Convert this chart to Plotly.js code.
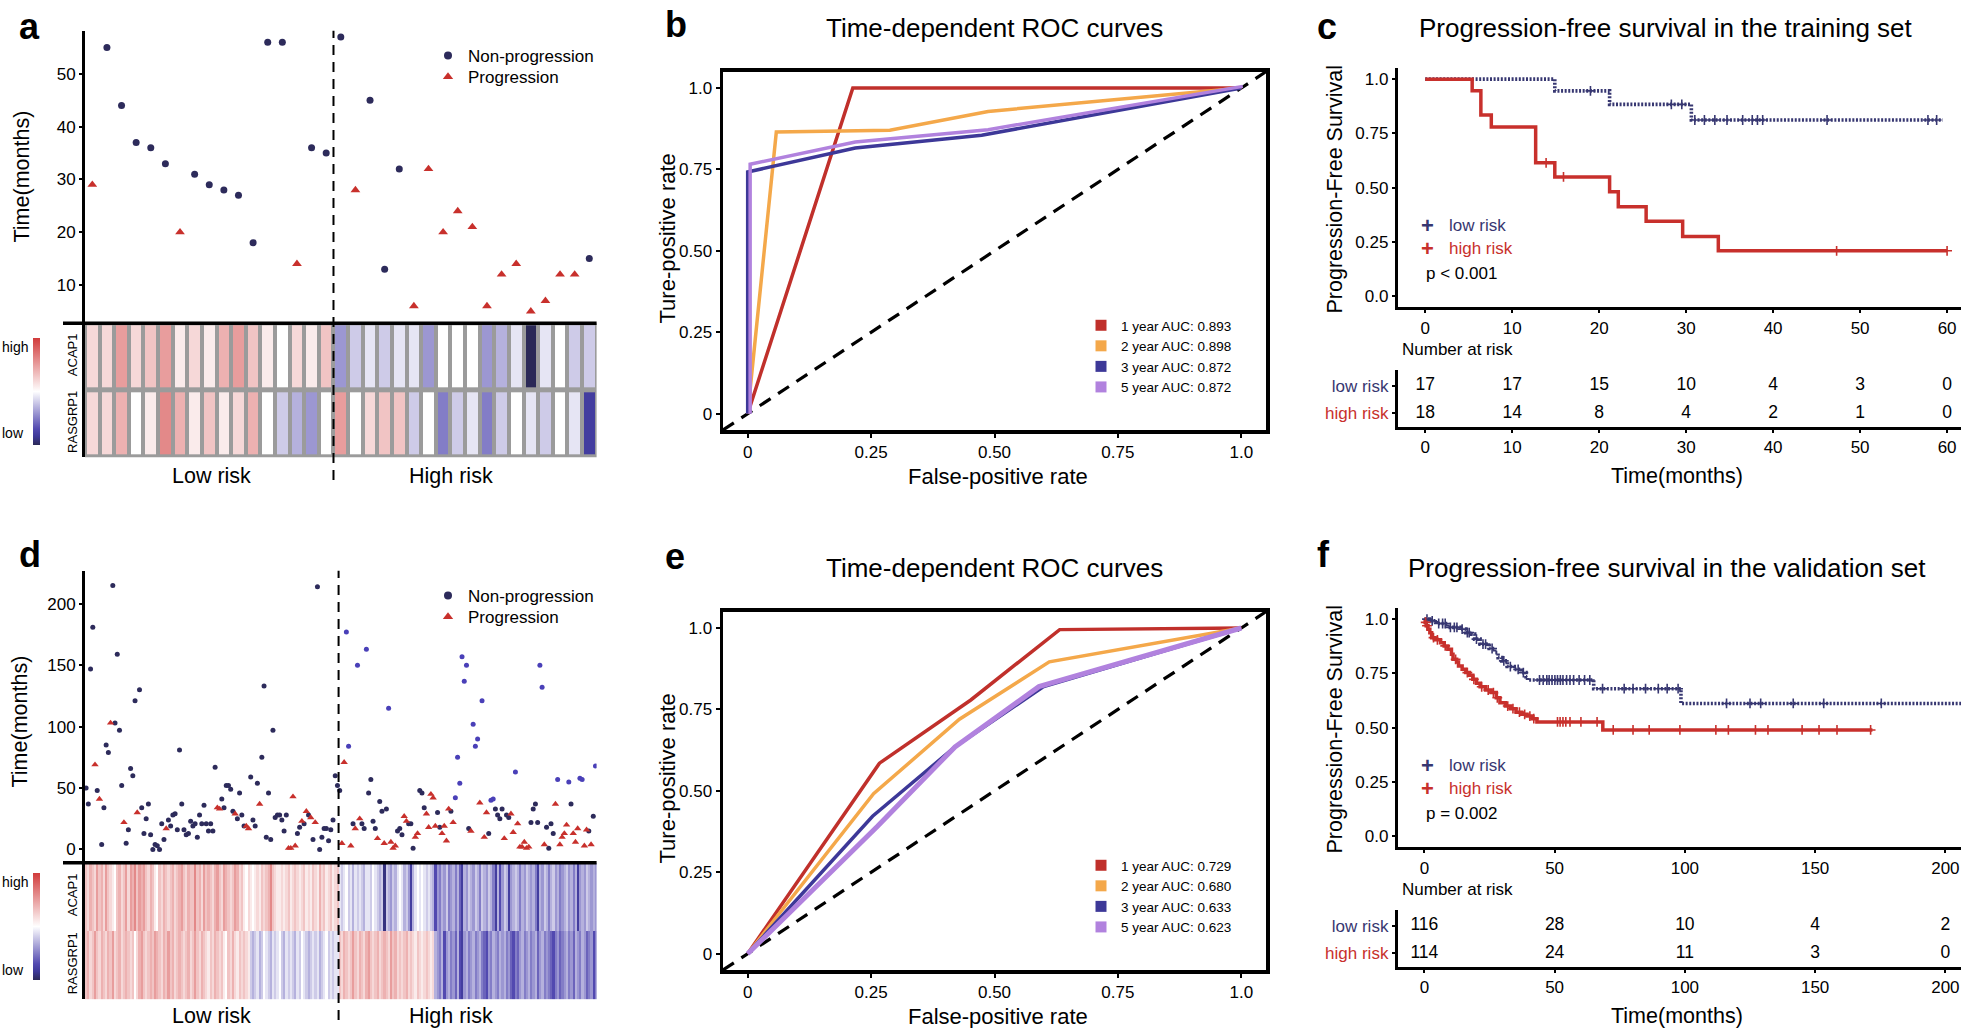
<!DOCTYPE html>
<html>
<head>
<meta charset="utf-8">
<script src="https://cdn.plot.ly/plotly-3.0.1.min.js"></script>
<style>
  html, body { margin: 0; padding: 0; background: #fff; }
  #chart { width: 1961px; height: 1028px; }
</style>
</head>
<body>
<div id="chart"></div>
<script>
// ---------- panel a: training set, samples ordered by risk score ----------
const aTime = [29,55,44,37,36,33,20,31,29,28,27,18,56,56,14,36,35,
               57,28,45,13,32,6,32,20,24,21,6,12,14,5,7,12,12,15];
const aStatus = [1,0,0,0,0,0,1,0,0,0,0,0,0,0,1,0,0,
                 0,1,0,0,0,1,1,1,1,1,1,1,1,1,1,1,1,0];
const aLowCount = 17;
// expression (scaled -10..10)
const aACAP1 = [2,2,5,2,3,5,1,2,1,4,5,3,1,0,2,1,3,
                -4,-2,-1,-2,-1,-1,-4,0,0,0,-4,-3,-1,-10,-1,0,-2,-2];
const aRASGRP1 = [2,2,4,0,1,6,4,1,3,1,2,4,0,-2,-3,-4,0,
                  5,0,2,3,3,-2,0,-5,-2,-1,-5,-2,0,-1,-2,0,-1,-8];

// ---------- panel d: validation set ----------
const dTime = [50,37,147,181,69,48,41,4,34,85, 79,103,215,103,159,97,52,22,5,16,
  66,60,121,30,130,34,13,25,37,12, 0,4,3,0,21,8,17,24,19,28,
  29,16,81,37,16,12,13,23,19,21, 10,28,21,36,21,15,21,15,67,34,
  33,41,34,52,52,49,31,29,25,46, 28,19,19,17,
  59,24,19,54,37,75,133,10,46,8, 97,26,28,28,24,15,28,1,1,43,
  3,13,18,23,21,31,28,26,8,22, 214,0,10,17,17,7,16,24,60,52,
  48,5,71,177,84,3,21,17,150,25, 21,17,163,46,57,23,17,9,39,31,
  5,33,115,6,1,3,15,17,12,27, 23,21,21,1,10,13,48,46,34,29, 18,
  45,42,19,30,18,13,19,7,33,31, 22,42,75,54,157,137,150,17,15,102,
  84,90,38,121,10,30,13,40,41,33, 28,25,33,9,28,26,29,14,63,21,
  2,2,6,1,2,22,33,37,22,150, 132,4,18,1,21,13,37,57,4,10,
  13,20,55,37,13,6,17,58,57,3, 16,15,4,27,68];
// 0 non-progression, 1 progression, 2 non-progression (lighter dot)
const dStatus = [0,0,0,0,1,0,1,0,0,0, 0,1,0,0,0,0,0,1,0,0,
  0,0,0,1,0,0,0,0,0,0, 0,0,0,0,0,0,1,0,0,0,
  0,0,0,0,0,0,0,0,0,0, 0,0,0,0,0,0,0,0,0,1,
  1,0,0,0,0,0,0,1,0,0, 0,0,1,1,
  0,0,0,0,1,0,0,0,0,0, 0,0,0,0,0,0,0,1,1,1,
  1,0,0,1,0,1,0,1,0,1, 0,0,0,0,0,0,0,0,0,0,
  0,1,1,2,2,1,0,1,2,1, 0,0,2,0,0,0,0,1,0,0,
  1,0,2,1,1,1,0,0,0,1, 1,0,0,0,1,1,0,0,0,1, 1,
  1,1,1,0,0,1,1,1,1,0, 1,2,2,2,2,2,2,0,1,2,
  2,2,1,2,1,1,0,2,2,0, 0,0,0,1,0,0,1,1,2,1,
  1,1,1,1,1,0,0,0,0,2, 2,1,0,0,0,0,1,2,1,1,
  1,1,2,0,1,1,1,2,2,1, 1,0,1,0,2];
const dLowCount = 114;
const dACAP1 = [3,2,4,3,2,5,3,4,2,5, 3,2,1,0,3,4,2,3,5,2, 5,4,6,3,5,4,5,3,2,4,
  3,1,0,3,2,4,3,2,3,4, 2,3,4,5,3,2,4,3,3,6, 3,4,2,5,3,4,3,2,4,5,
  3,2,5,4,3,2,3,5,4,2, 3,1,0,2,1,0,1,2,1,3, 2,3,4,6,3,2,1,1,2,1,
  2,3,1,2,3,2,1,2,3,1, 2,1,3,2,1,4,2,3,1,2,3,1,2,3,
  -1,-2,-1,0,-2,-1,-3,-1,-2,-1, -2,-3,-1,-1,-2,0,-1,-2,-3,-2,
  -9,-2,-3,-4,-2,-3,-1,0,-1,-3, -2,-4,-8,-3,-1,0,-1,0,-1,-2,
  -1,-2,-3,-7,-4,-5,-3,-4,-2,-5, -4,-3,-5,-3,-6,-8,-3,-4,-2,-3,
  -4,-2,-3,-5,-2,-3,-4,-2,-3,-5, -8,-3,-7,-4,-2,-3,-8,-4,-3,-2,
  -3,-5,-3,-4,-2,-3,-4,-3,-5,-8, -3,-4,-2,-3,-5,-3,-2,-4,-3,-5,
  -4,-3,-2,-4,-3,-5,-3,-8,-4,-3, -4,-2,-3,-4,-3,-4];
const dRASGRP1 = [3,4,2,3,5,3,2,4,3,2, 4,3,5,2,3,4,2,3,4,3, 2,3,0,2,4,5,3,2,3,4,
  3,5,4,3,2,4,3,5,3,4, 2,3,4,3,2,3,4,2,3,5, 3,2,4,3,2,1,3,2,4,3,
  2,3,1,0,3,2,4,2,1,3, 2,3,2,1,
  -2,-3,-2,-1,-3,-2,0,-1,-2,-3, -1,-2,-1,0,-2,-3,-1,-2,-1,-2,
  -3,-1,-2,0,-1,-2,-3,-2,-1,-2, -1,-3,-2,-1,0,-2,-1,-2,-1,-1,
  3,2,4,3,2,3,5,3,2,4, 3,2,4,5,3,2,3,4,2,3, 4,3,2,5,3,4,2,3,2,3,
  4,2,3,2,1,3,2,1,2,3, 2,1,2,
  -3,-4,-5,-3,-7,-4,-3,-5,-4,-6, -3,-7,-8,-4,-3,-5,-4,-3,-5,-4,
  -3,-5,-6,-7,-4,-5,-3,-4,-5,-3, -4,-3,-5,-4,-6,-7,-5,-6,-4,-3,
  -5,-4,-3,-5,-4,-3,-6,-4,-3,-5, -4,-5,-6,-7,-5,-4,-6,-5,-4,-3,
  -5,-4,-6,-3,-4,-5,-3,-4,-6,-5, -4,-7,-5];

// ---------- panels b / e: time-dependent ROC ----------
const rocYears = [1, 2, 3, 5];
const bAUC = [0.893, 0.898, 0.872, 0.872];
const bFpr = [[0,0.213,1],[0,0.058,0.288,0.487,1],[0,0,0.218,0.474,1],[0.005,0.005,0.218,0.487,1.003]];
const bTpr = [[0,1,1],[0,0.865,0.87,0.928,1],[0,0.742,0.816,0.855,1],[0,0.766,0.834,0.872,1.005]];
const eAUC = [0.729, 0.680, 0.633, 0.623];
const eFpr = [[0,0.267,0.452,0.632,1],[0,0.255,0.429,0.611,1],[0,0.253,0.42,0.598,1],[0,0.263,0.42,0.59,1]];
const eTpr = [[0,0.585,0.779,0.995,1],[0,0.491,0.72,0.896,1],[0,0.422,0.635,0.819,1],[0,0.391,0.635,0.82,1]];

// ---------- panels c / f: Kaplan-Meier ----------
const cLowT = [0, 14.9, 21.2, 30.6, 59.5];
const cLowS = [1, 0.946, 0.884, 0.812, 0.812];
const cLowCens = [19, 28.3, 29.5, 31, 32.1, 33.3, 34.7, 36.5, 37.6, 38.2, 38.8, 46.2, 57.8, 58.8];
const cHighT = [0, 5.4, 6.4, 7.6, 12.7, 14.9, 21.2, 22.2, 25.4, 29.6, 33.7, 60];
const cHighS = [1, 0.947, 0.835, 0.78, 0.615, 0.55, 0.482, 0.413, 0.346, 0.276, 0.21, 0.21];
const cHighCens = [13.9, 15.9, 47.3, 60];
const cRiskTimes = [0, 10, 20, 30, 40, 50, 60];
const cRiskLow = [17, 17, 15, 10, 4, 3, 0];
const cRiskHigh = [18, 14, 8, 4, 2, 1, 0];

const fLowT = [0, 2, 4.8, 9, 13.8, 15.9, 18, 19.3, 21.4, 24.9, 27, 28.3, 29.7, 31.8, 34.5, 37.3, 39, 39.6, 65, 98.5, 206];
const fLowS = [1, 0.992, 0.98, 0.962, 0.954, 0.938, 0.931, 0.908, 0.885, 0.865, 0.846, 0.823, 0.808, 0.782, 0.769, 0.754, 0.735, 0.72, 0.68, 0.612, 0.612];
const fLowCens = [1, 3, 5.5, 7, 8, 10, 11.5, 12.5, 14.5, 16.5, 17.2, 20, 22.5, 23.5, 26, 30.5, 33, 36, 38,
  44.2, 45.6, 47, 47.9, 49, 50.1, 51.1, 52.2, 53.2, 54.6, 55.9, 57.3, 59.4, 61.5, 63.5,
  68.4, 76.7, 80.1, 84.9, 89.8, 93.2, 97.4, 116, 125, 129.1, 141.6, 153.3, 175.4];
const fHighT = [0, 0.3, 0.7, 1.4, 2.1, 2.8, 4.1, 6.2, 7.6, 9, 10.4, 11, 12.4, 13.1, 14.5, 15.9, 17.3, 18.6, 20, 21.4,
  23.5, 25.6, 27.6, 29, 31.1, 33.1, 35.2, 37.3, 39.4, 41.4, 43.2, 68.5, 172];
const fHighS = [1, 0.985, 0.97, 0.954, 0.938, 0.915, 0.905, 0.892, 0.877, 0.862, 0.838, 0.815, 0.803, 0.785, 0.769, 0.754, 0.742, 0.723, 0.705, 0.689,
  0.674, 0.662, 0.638, 0.615, 0.6, 0.588, 0.572, 0.562, 0.554, 0.542, 0.527, 0.49, 0.49];
const fHighCens = [0.5, 1, 3.5, 5, 8, 12, 16.5, 19, 22, 24.5, 26.5, 28, 32, 34, 36.5, 38.5, 40.5, 42,
  51.1, 52.1, 53.2, 54.3, 55.9, 60.1, 66.3,
  72.5, 80.1, 86.3, 98.1, 111.9, 116.7, 127.1, 131.9, 145, 151.5, 158.4, 171.3];
const fRiskTimes = [0, 50, 100, 150, 200];
const fRiskLow = [116, 28, 10, 4, 2];
const fRiskHigh = [114, 24, 11, 3, 0];

// ---------- styling ----------
const W = 1961, H = 1028;
const SANS = 'Liberation Sans, Arial, Helvetica, sans-serif';
const NAVY = '#2d2b5b', VIOLET = '#4a40b8', RED = '#c8302c';
const KM_NAVY = '#373771', KM_RED = '#c8302c';
const rocColors = ['#c0302b', '#f4a84a', '#3d3898', '#b182de'];
const heatScale = [[0,'#2b2957'],[0.08,'#3d3898'],[0.15,'#5249b0'],[0.5,'#ffffff'],[1,'#d13b3b']];

const fx = p => p / W;
const fy = p => 1 - p / H;
const pick = (arr, st, code) => arr.filter((_, i) => st[i] === code);
const survAt = (ts, ss, t) => { let s = ss[0]; ts.forEach((v, i) => { if (v <= t) s = ss[i]; }); return s; };

const traces = [];

// scatter + heatmap (a, d)
function riskPanel(time, status, acap, rasg, xa, ya, xh, yh, legendIds, big, cbY) {
  const xs = time.map((_, i) => i + 1);
  [[0, 'circle', NAVY], [2, 'circle', VIOLET], [1, 'triangle-up', RED]].forEach(([code, sym, col]) => {
    const px = pick(xs, status, code);
    if (!px.length) return;
    traces.push({type: 'scatter', mode: 'markers', x: px, y: pick(time, status, code),
      showlegend: false, xaxis: xa, yaxis: ya, hoverinfo: 'skip',
      marker: {symbol: sym, color: col, size: sym === 'circle' ? (big ? 7 : 5) : (big ? 8.5 : 6.5)}});
  });
  // legend keys, one legend box per row
  [['circle', NAVY, 'Non-progression', 8], ['triangle-up', RED, 'Progression', 9]].forEach(([sym, col, name, sz], k) => {
    traces.push({type: 'scatter', mode: 'markers', x: [null], y: [null], name, legend: legendIds[k],
      xaxis: xa, yaxis: ya, marker: {symbol: sym, color: col, size: sz}});
  });
  traces.push({type: 'heatmap', x: xs, y: [0, 1], z: [rasg, acap], xaxis: xh, yaxis: yh,
    colorscale: heatScale, zmin: -10, zmax: 10, hoverinfo: 'skip',
    xgap: big ? 4 : 0, ygap: big ? 5 : 0,
    colorbar: {x: fx(32.7), xanchor: 'left', y: fy(cbY), yanchor: 'middle', len: 107 / H,
      thickness: 7, showticklabels: false, ticks: '', outlinewidth: 0, xpad: 0, ypad: 0}});
}
riskPanel(aTime, aStatus, aACAP1, aRASGRP1, 'x', 'y', 'x2', 'y2', ['legend3', 'legend5'], true, 391.5);
riskPanel(dTime, dStatus, dACAP1, dRASGRP1, 'x3', 'y3', 'x4', 'y4', ['legend4', 'legend6'], false, 926.5);

// ROC (b, e)
function rocPanel(fpr, tpr, auc, xa, ya, legendId, fat) {
  fpr.forEach((f, k) => {
    traces.push({type: 'scatter', mode: 'lines', x: f, y: tpr[k], xaxis: xa, yaxis: ya, showlegend: false,
      hoverinfo: 'skip', line: {color: rocColors[k], width: fat && k === 3 ? 5 : 3.5}});
  });
  auc.forEach((v, k) => {
    traces.push({type: 'scatter', mode: 'markers', x: [null], y: [null], xaxis: xa, yaxis: ya,
      name: rocYears[k] + ' year AUC: ' + v.toFixed(3), legend: legendId,
      marker: {symbol: 'square', size: 11, color: rocColors[k]}});
  });
}
rocPanel(bFpr, bTpr, bAUC, 'x5', 'y5', 'legend', false);
rocPanel(eFpr, eTpr, eAUC, 'x6', 'y6', 'legend2', true);

// KM (c, f)
function kmPanel(lowT, lowS, lowC, highT, highS, highC, rT, rLow, rHigh, xa, ya, xt, yt) {
  traces.push({type: 'scatter', mode: 'lines', x: lowT, y: lowS, xaxis: xa, yaxis: ya, showlegend: false,
    hoverinfo: 'skip', line: {shape: 'hv', color: KM_NAVY, width: 3.6, dash: '2px,1.6px'}});
  traces.push({type: 'scatter', mode: 'lines', x: highT, y: highS, xaxis: xa, yaxis: ya, showlegend: false,
    hoverinfo: 'skip', line: {shape: 'hv', color: KM_RED, width: 3.5}});
  [[lowC, lowT, lowS, KM_NAVY], [highC, highT, highS, KM_RED]].forEach(([cs, ts, ss, col]) => {
    traces.push({type: 'scatter', mode: 'markers', x: cs, y: cs.map(t => survAt(ts, ss, t)),
      xaxis: xa, yaxis: ya, showlegend: false, hoverinfo: 'skip',
      marker: {symbol: 'cross-thin', size: 7, color: col, line: {color: col, width: 1.6}}});
  });
  [[rLow, 1], [rHigh, 0]].forEach(([vals, row]) => {
    traces.push({type: 'scatter', mode: 'text', x: rT, y: vals.map(() => row), text: vals.map(String),
      xaxis: xt, yaxis: yt, showlegend: false, hoverinfo: 'skip',
      textfont: {family: SANS, size: 17.5, color: '#000'}});
  });
}
kmPanel(cLowT, cLowS, cLowCens, cHighT, cHighS, cHighCens, cRiskTimes, cRiskLow, cRiskHigh, 'x7', 'y7', 'x8', 'y8');
kmPanel(fLowT, fLowS, fLowCens, fHighT, fHighS, fHighCens, fRiskTimes, fRiskLow, fRiskHigh, 'x9', 'y9', 'x10', 'y10');

// ---------- axes ----------
const tickFont = {family: SANS, size: 17, color: '#000'};
const hidden = (dom, range, anchor) => ({domain: dom, range, visible: false, anchor, fixedrange: true});
const leftAxis = (dom, range, anchor, vals, text) => ({domain: dom, range, anchor, showline: true, linewidth: 3,
  linecolor: '#000', ticks: 'outside', ticklen: 3, tickwidth: 2, tickcolor: '#000', tickvals: vals,
  ticktext: text, tickfont: tickFont, showgrid: false, zeroline: false});
const boxAxis = (dom, anchor) => ({domain: dom, range: [-0.05, 1.05], anchor, showline: true, mirror: true,
  linewidth: 3.5, linecolor: '#000', ticks: 'outside', ticklen: 4, tickwidth: 2, tickcolor: '#000',
  tickvals: [0, 0.25, 0.5, 0.75, 1], ticktext: ['0', '0.25', '0.50', '0.75', '1.0'], tickfont: tickFont,
  showgrid: false, zeroline: false});
const kmX = (dom, range, anchor, vals) => ({domain: dom, range, anchor, showline: true, linewidth: 3,
  linecolor: '#000', ticks: 'outside', ticklen: 3, tickwidth: 2, tickcolor: '#000', tickvals: vals,
  tickfont: tickFont, showgrid: false, zeroline: false});
const riskLabels = ['<span style="color:' + KM_RED + '">high risk</span>',
                    '<span style="color:' + KM_NAVY + '">low risk</span>'];
const survTicks = [[0, 0.25, 0.5, 0.75, 1], ['0.0', '0.25', '0.50', '0.75', '1.0']];

const xA = [fx(85), fx(596.6)];
const xB = [fx(723), fx(1266)];
const xC = [fx(1397.8), 1];

const layout = {
  width: W, height: H, margin: {l: 0, r: 0, t: 0, b: 0}, paper_bgcolor: '#fff', plot_bgcolor: 'rgba(0,0,0,0)',
  font: {family: SANS, color: '#000'}, hovermode: false, showlegend: true,
  xaxis: hidden(xA, [0.5, aTime.length + 0.5], 'y'),
  yaxis: leftAxis([fy(323.3), fy(30.7)], [2.73, 58.2], 'x', [10, 20, 30, 40, 50]),
  xaxis2: hidden(xA, [0.5, aTime.length + 0.5], 'y2'),
  yaxis2: Object.assign(leftAxis([fy(457.3), fy(323.3)], [-0.5, 1.5], 'x2', [0, 1], ['RASGRP1', 'ACAP1']),
    {ticks: '', tickangle: -90, tickfont: {family: SANS, size: 13, color: '#000'}}),
  xaxis3: hidden(xA, [0.5, dTime.length + 0.5], 'y3'),
  yaxis3: leftAxis([fy(862.7), fy(570.7)], [-10.8, 227], 'x3', [0, 50, 100, 150, 200]),
  xaxis4: hidden(xA, [0.5, dTime.length + 0.5], 'y4'),
  yaxis4: Object.assign(leftAxis([fy(999.3), fy(862.7)], [-0.5, 1.5], 'x4', [0, 1], ['RASGRP1', 'ACAP1']),
    {ticks: '', tickangle: -90, tickfont: {family: SANS, size: 13, color: '#000'}}),
  xaxis5: boxAxis(xB, 'y5'),
  yaxis5: boxAxis([fy(430), fy(71.7)], 'x5'),
  xaxis6: boxAxis(xB, 'y6'),
  yaxis6: boxAxis([fy(970), fy(611.7)], 'x6'),
  xaxis7: kmX(xC, [-3.15, 61.6], 'y7', cRiskTimes),
  yaxis7: leftAxis([fy(307.3), fy(68.3)], [-0.05, 1.05], 'x7', survTicks[0], survTicks[1]),
  xaxis8: kmX(xC, [-3.15, 61.6], 'y8', cRiskTimes),
  yaxis8: leftAxis([fy(426.7), fy(370)], [-0.49, 1.59], 'x8', [0, 1], riskLabels),
  xaxis9: kmX(xC, [-10.2, 206], 'y9', fRiskTimes),
  yaxis9: leftAxis([fy(847.3), fy(608.3)], [-0.05, 1.05], 'x9', survTicks[0], survTicks[1]),
  xaxis10: kmX(xC, [-10.2, 206], 'y10', fRiskTimes),
  yaxis10: leftAxis([fy(966.7), fy(910)], [-0.49, 1.59], 'x10', [0, 1], riskLabels),
};

const legendBase = {xanchor: 'left', bgcolor: 'rgba(0,0,0,0)', borderwidth: 0};
layout.legend = Object.assign({x: fx(1081), y: fy(310), yanchor: 'top', font: {family: SANS, size: 13.5}}, legendBase);
layout.legend2 = Object.assign({x: fx(1081), y: fy(850), yanchor: 'top', font: {family: SANS, size: 13.5}}, legendBase);
[['legend3', 56], ['legend5', 77.3], ['legend4', 596], ['legend6', 617.3]].forEach(([id, yy]) => {
  layout[id] = Object.assign({x: fx(428), y: fy(yy), yanchor: 'middle', font: {family: SANS, size: 17}}, legendBase);
});

// ---------- shapes ----------
const shapes = [];
shapes.push({type: 'rect', xref: 'x2 domain', yref: 'y2 domain', x0: 0, x1: 1, y0: 0, y1: 1,
  fillcolor: '#9b9b9b', line: {width: 0}, layer: 'below'});
[[323.3], [862.7]].forEach(([yy]) => shapes.push({type: 'line', xref: 'paper', yref: 'paper',
  x0: fx(63), x1: fx(596.6), y0: fy(yy), y1: fy(yy), line: {color: '#000', width: 3.5}}));
shapes.push({type: 'line', xref: 'x', yref: 'paper', x0: aLowCount + 0.5, x1: aLowCount + 0.5,
  y0: fy(480), y1: fy(30.7), line: {color: '#000', width: 2, dash: '10px,7px'}});
shapes.push({type: 'line', xref: 'x3', yref: 'paper', x0: dLowCount + 0.5, x1: dLowCount + 0.5,
  y0: fy(1020), y1: fy(570.7), line: {color: '#000', width: 2, dash: '10px,7px'}});
[['x5', 'y5'], ['x6', 'y6']].forEach(([xr, yr]) => shapes.push({type: 'line', xref: xr, yref: yr,
  x0: -0.05, y0: -0.05, x1: 1.05, y1: 1.05, layer: 'below', line: {color: '#000', width: 3.2, dash: '13px,9px'}}));
layout.shapes = shapes;

// ---------- text ----------
const note = (text, x, y, size, extra) => Object.assign({text, x: fx(x), y: fy(y), xref: 'paper', yref: 'paper',
  showarrow: false, xanchor: 'center', yanchor: 'middle', font: {family: SANS, size, color: '#000'}}, extra || {});
const ann = [];
[['a', 29, 26], ['b', 676, 24], ['c', 1327, 26], ['d', 29.6, 554], ['e', 675, 556], ['f', 1323, 554]]
  .forEach(([t, x, y]) => ann.push(note('<b>' + t + '</b>', x, y, 36)));
ann.push(note('Time-dependent ROC curves', 994.5, 27.6, 26));
ann.push(note('Time-dependent ROC curves', 994.5, 567.6, 26));
ann.push(note('Progression-free survival in the training set', 1665.6, 27.6, 26));
ann.push(note('Progression-free survival in the validation set', 1667, 567.6, 26));
ann.push(note('Time(months)', 21.5, 177, 21.5, {textangle: -90}));
ann.push(note('Time(months)', 19.5, 722, 21.5, {textangle: -90}));
[[0], [540]].forEach(([o]) => {
  ann.push(note('Ture-positive rate', 666.5, 239 + o, 22, {textangle: -90}));
  ann.push(note('False-positive rate', 998, 476 + o, 22));
  ann.push(note('Progression-Free Survival', 1334.5, 189 + o, 21.5, {textangle: -90}));
  ann.push(note('Time(months)', 1676.5, 476 + o, 21.5));
  ann.push(note('Number at risk', 1400, 349.3 + o, 17, {xanchor: 'left'}));
  ann.push(note('<b>+</b>', 1427.7, 225.7 + o, 22, {font: {family: SANS, size: 22, color: KM_NAVY}}));
  ann.push(note('<b>+</b>', 1427.7, 248.3 + o, 22, {font: {family: SANS, size: 22, color: KM_RED}}));
  ann.push(note('low risk', 1446.7, 225.7 + o, 17, {xanchor: 'left', font: {family: SANS, size: 17, color: KM_NAVY}}));
  ann.push(note('high risk', 1446.7, 248.3 + o, 17, {xanchor: 'left', font: {family: SANS, size: 17, color: KM_RED}}));
  ann.push(note(o ? 'p = 0.002' : 'p &lt; 0.001', 1424.4, 273.3 + o, 17, {xanchor: 'left'}));
  ann.push(note('Low risk', 211.5, 476 + o, 21.5));
  ann.push(note('High risk', 450.6, 476 + o, 21.5));
});
ann.push(note('high', 0, 347, 14, {xanchor: 'left'}));
ann.push(note('low', 0, 433, 14, {xanchor: 'left'}));
ann.push(note('high', 0, 881.7, 14, {xanchor: 'left'}));
ann.push(note('low', 0, 970, 14, {xanchor: 'left'}));
layout.annotations = ann;

Plotly.newPlot('chart', traces, layout, {displayModeBar: false, staticPlot: true});
</script>
</body>
</html>
